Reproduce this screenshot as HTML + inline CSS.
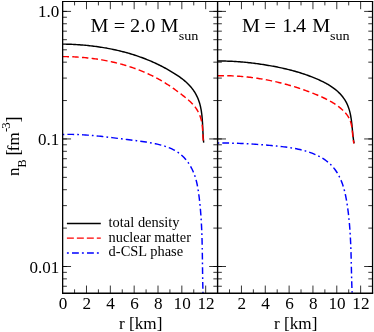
<!DOCTYPE html>
<html><head><meta charset="utf-8"><title>nB profile</title>
<style>html,body{margin:0;padding:0;background:#fff;}body{width:374px;height:332px;overflow:hidden;font-family:"Liberation Serif",serif;}svg{display:block;will-change:transform;}</style>
</head><body>
<svg width="374" height="332" viewBox="0 0 374 332">
<rect width="374" height="332" fill="#fff"/>
<g fill="none" stroke-width="1.45">
<path d="M62.60 44.10 L64.01 44.12 L65.43 44.15 L66.84 44.19 L68.26 44.23 L69.67 44.28 L71.08 44.33 L72.50 44.39 L73.91 44.46 L75.33 44.54 L76.74 44.62 L78.15 44.71 L79.57 44.81 L80.98 44.91 L82.39 45.02 L83.80 45.14 L85.22 45.27 L86.63 45.40 L88.04 45.54 L89.44 45.69 L90.85 45.85 L92.26 46.01 L93.66 46.18 L95.07 46.36 L96.47 46.55 L97.88 46.74 L99.28 46.95 L100.68 47.16 L102.07 47.38 L103.47 47.60 L104.87 47.84 L106.26 48.08 L107.65 48.34 L109.04 48.60 L110.43 48.87 L111.82 49.14 L113.20 49.43 L114.58 49.72 L115.96 50.03 L117.34 50.34 L118.72 50.66 L120.09 50.99 L121.46 51.33 L122.83 51.68 L124.20 52.04 L125.56 52.41 L126.92 52.78 L128.28 53.17 L129.64 53.56 L130.99 53.97 L132.34 54.38 L133.69 54.80 L135.03 55.23 L136.37 55.68 L137.71 56.13 L139.05 56.59 L140.38 57.06 L141.71 57.55 L143.03 58.04 L144.35 58.54 L145.67 59.05 L146.99 59.57 L148.30 60.11 L149.60 60.65 L150.91 61.20 L152.21 61.77 L153.50 62.34 L154.79 62.93 L156.08 63.52 L157.36 64.13 L158.64 64.74 L159.92 65.37 L161.19 66.01 L162.45 66.66 L163.71 67.32 L164.97 67.99 L166.22 68.67 L167.47 69.37 L168.71 70.07 L169.95 70.79 L171.18 71.52 L172.41 72.26 L173.64 73.01 L174.85 73.77 L176.06 74.55 L177.26 75.34 L178.44 76.14 L179.62 76.96 L180.77 77.80 L181.91 78.66 L183.04 79.53 L184.14 80.42 L185.22 81.33 L186.27 82.27 L187.30 83.22 L188.30 84.20 L189.27 85.20 L190.21 86.23 L191.12 87.28 L191.99 88.35 L192.83 89.45 L193.63 90.58 L194.40 91.73 L195.13 92.91 L195.82 94.11 L196.47 95.33 L197.08 96.57 L197.66 97.83 L198.19 99.11 L198.69 100.42 L199.14 101.73 L199.56 103.07 L199.94 104.42 L200.29 105.79 L200.60 107.17 L200.89 108.56 L201.15 109.97 L201.38 111.38 L201.58 112.80 L201.77 114.23 L201.93 115.67 L202.07 117.11 L202.20 118.56 L202.31 120.00 L202.41 121.45 L202.50 122.90 L202.58 124.35 L202.66 125.80 L202.73 127.25 L202.79 128.69 L202.86 130.12 L202.92 131.55 L202.99 132.97 L203.06 134.38 L203.14 135.78 L203.23 137.17 L203.32 138.55 L203.43 139.92 L203.56 141.27 L203.70 142.60" stroke="#000"/>
<path d="M62.60 56.60 L63.91 56.61 L65.21 56.62 L66.52 56.64 L67.82 56.66 L69.13 56.70 L70.44 56.74 L71.75 56.78 L73.06 56.84 L74.37 56.90 L75.69 56.97 L77.00 57.04 L78.31 57.13 L79.63 57.22 L80.94 57.31 L82.25 57.42 L83.57 57.53 L84.88 57.65 L86.19 57.78 L87.50 57.91 L88.82 58.05 L90.13 58.20 L91.44 58.36 L92.75 58.52 L94.06 58.69 L95.37 58.87 L96.68 59.06 L97.99 59.26 L99.29 59.46 L100.60 59.67 L101.90 59.89 L103.21 60.12 L104.51 60.36 L105.81 60.60 L107.10 60.85 L108.40 61.11 L109.69 61.38 L110.99 61.65 L112.28 61.94 L113.57 62.23 L114.85 62.53 L116.14 62.84 L117.42 63.16 L118.70 63.49 L119.97 63.82 L121.25 64.17 L122.52 64.52 L123.79 64.88 L125.05 65.25 L126.32 65.63 L127.58 66.02 L128.83 66.41 L130.09 66.82 L131.34 67.23 L132.58 67.66 L133.83 68.09 L135.07 68.53 L136.30 68.98 L137.53 69.44 L138.76 69.91 L139.99 70.39 L141.21 70.87 L142.42 71.37 L143.63 71.88 L144.84 72.39 L146.04 72.92 L147.24 73.45 L148.44 73.99 L149.63 74.55 L150.81 75.11 L151.99 75.68 L153.17 76.27 L154.34 76.86 L155.50 77.46 L156.66 78.07 L157.81 78.69 L158.96 79.32 L160.11 79.97 L161.24 80.62 L162.37 81.28 L163.50 81.95 L164.62 82.63 L165.74 83.32 L166.84 84.02 L167.95 84.74 L169.04 85.46 L170.13 86.19 L171.22 86.93 L172.30 87.68 L173.38 88.44 L174.45 89.21 L175.52 89.98 L176.59 90.77 L177.65 91.55 L178.72 92.35 L179.78 93.15 L180.85 93.95 L181.91 94.76 L182.97 95.58 L184.03 96.40 L185.08 97.23 L186.12 98.08 L187.15 98.93 L188.16 99.80 L189.15 100.68 L190.13 101.58 L191.07 102.49 L192.00 103.43 L192.89 104.38 L193.75 105.36 L194.58 106.36 L195.37 107.38 L196.12 108.43 L196.83 109.51 L197.50 110.61 L198.12 111.73 L198.71 112.88 L199.25 114.05 L199.75 115.24 L200.21 116.45 L200.63 117.68 L201.00 118.93 L201.32 120.20 L201.61 121.48 L201.85 122.78 L202.05 124.10 L202.22 125.42 L202.36 126.75 L202.48 128.09 L202.58 129.43 L202.66 130.78 L202.74 132.12 L202.81 133.46 L202.88 134.80 L202.95 136.13 L203.03 137.45 L203.13 138.76 L203.25 140.06 L203.38 141.34 L203.55 142.60" stroke="#f00" stroke-dasharray="6.4 3.3"/>
<path d="M62.60 134.45 L64.52 134.41 L66.43 134.38 L68.35 134.37 L70.26 134.37 L72.17 134.40 L74.07 134.44 L75.98 134.49 L77.88 134.56 L79.79 134.65 L81.69 134.75 L83.59 134.86 L85.49 134.98 L87.39 135.12 L89.28 135.26 L91.18 135.42 L93.07 135.59 L94.97 135.76 L96.86 135.95 L98.75 136.14 L100.64 136.34 L102.53 136.55 L104.42 136.76 L106.31 136.98 L108.20 137.20 L110.09 137.42 L111.98 137.65 L113.87 137.89 L115.75 138.12 L117.64 138.36 L119.53 138.60 L121.42 138.83 L123.30 139.07 L125.19 139.31 L127.08 139.54 L128.97 139.77 L130.86 140.00 L132.74 140.23 L134.63 140.46 L136.52 140.70 L138.41 140.94 L140.30 141.19 L142.19 141.44 L144.08 141.71 L145.96 142.00 L147.85 142.30 L149.73 142.62 L151.62 142.97 L153.50 143.33 L155.38 143.73 L157.26 144.15 L159.14 144.60 L161.02 145.09 L162.88 145.62 L164.73 146.18 L166.56 146.79 L168.36 147.46 L170.14 148.17 L171.88 148.94 L173.59 149.77 L175.24 150.67 L176.85 151.64 L178.41 152.67 L179.90 153.78 L181.34 154.97 L182.72 156.22 L184.04 157.54 L185.30 158.92 L186.50 160.36 L187.64 161.85 L188.72 163.39 L189.74 164.98 L190.70 166.61 L191.61 168.28 L192.45 169.99 L193.24 171.72 L193.96 173.49 L194.63 175.28 L195.24 177.09 L195.79 178.91 L196.29 180.76 L196.75 182.62 L197.16 184.49 L197.53 186.37 L197.87 188.26 L198.18 190.16 L198.47 192.06 L198.73 193.96 L198.98 195.87 L199.22 197.77 L199.44 199.68 L199.65 201.58 L199.85 203.49 L200.05 205.39 L200.23 207.29 L200.40 209.19 L200.56 211.10 L200.71 213.00 L200.85 214.90 L200.99 216.80 L201.11 218.70 L201.23 220.60 L201.34 222.49 L201.44 224.39 L201.54 226.29 L201.63 228.19 L201.71 230.09 L201.79 231.99 L201.86 233.88 L201.92 235.78 L201.98 237.68 L202.04 239.58 L202.09 241.48 L202.13 243.37 L202.18 245.27 L202.22 247.17 L202.25 249.07 L202.29 250.97 L202.32 252.87 L202.35 254.77 L202.38 256.67 L202.40 258.57 L202.43 260.47 L202.45 262.37 L202.48 264.28 L202.50 266.18 L202.52 268.08 L202.55 269.99 L202.57 271.89 L202.60 273.80 L202.63 275.70 L202.66 277.61 L202.69 279.52 L202.72 281.43 L202.76 283.34 L202.80 285.25 L202.84 287.16 L202.89 289.07 L202.94 290.99 L203.00 292.90" stroke="#00f" stroke-dasharray="1.7 3.1 6.75 3.1"/>
<path d="M217.55 61.05 L218.85 61.04 L220.16 61.03 L221.46 61.04 L222.77 61.05 L224.07 61.06 L225.38 61.09 L226.68 61.12 L227.99 61.16 L229.30 61.21 L230.61 61.26 L231.91 61.32 L233.22 61.39 L234.53 61.46 L235.84 61.54 L237.14 61.63 L238.45 61.72 L239.76 61.82 L241.07 61.92 L242.37 62.03 L243.68 62.15 L244.99 62.27 L246.29 62.40 L247.60 62.54 L248.90 62.68 L250.21 62.83 L251.51 62.98 L252.81 63.14 L254.12 63.30 L255.42 63.47 L256.72 63.64 L258.02 63.82 L259.32 64.00 L260.61 64.19 L261.91 64.38 L263.21 64.58 L264.50 64.78 L265.79 64.99 L267.08 65.20 L268.37 65.42 L269.66 65.64 L270.95 65.87 L272.24 66.10 L273.52 66.33 L274.80 66.57 L276.08 66.82 L277.36 67.08 L278.64 67.34 L279.92 67.60 L281.19 67.87 L282.47 68.15 L283.74 68.43 L285.01 68.73 L286.28 69.02 L287.54 69.33 L288.81 69.64 L290.07 69.96 L291.33 70.29 L292.59 70.62 L293.85 70.97 L295.10 71.32 L296.36 71.68 L297.61 72.04 L298.86 72.42 L300.10 72.80 L301.35 73.19 L302.59 73.60 L303.83 74.01 L305.07 74.43 L306.31 74.86 L307.54 75.30 L308.77 75.75 L310.00 76.20 L311.23 76.67 L312.46 77.15 L313.68 77.64 L314.90 78.14 L316.12 78.65 L317.33 79.17 L318.55 79.71 L319.76 80.25 L320.96 80.81 L322.15 81.38 L323.34 81.97 L324.52 82.57 L325.69 83.19 L326.85 83.83 L327.99 84.48 L329.12 85.16 L330.24 85.85 L331.34 86.56 L332.42 87.30 L333.48 88.05 L334.53 88.84 L335.55 89.64 L336.55 90.47 L337.53 91.33 L338.48 92.21 L339.40 93.12 L340.30 94.05 L341.17 95.02 L342.01 96.01 L342.82 97.02 L343.59 98.06 L344.33 99.13 L345.03 100.22 L345.70 101.32 L346.32 102.46 L346.90 103.61 L347.44 104.78 L347.93 105.97 L348.39 107.17 L348.82 108.39 L349.20 109.63 L349.56 110.88 L349.89 112.14 L350.19 113.42 L350.46 114.71 L350.71 116.00 L350.94 117.30 L351.15 118.62 L351.34 119.93 L351.51 121.25 L351.67 122.58 L351.82 123.91 L351.96 125.24 L352.10 126.57 L352.22 127.90 L352.35 129.23 L352.47 130.55 L352.60 131.87 L352.72 133.19 L352.86 134.50 L353.00 135.80 L353.15 137.09 L353.31 138.38 L353.48 139.65 L353.67 140.92 L353.87 142.16 L354.10 143.40" stroke="#000"/>
<path d="M217.55 75.70 L218.77 75.68 L219.99 75.67 L221.20 75.67 L222.42 75.67 L223.64 75.67 L224.85 75.69 L226.07 75.71 L227.28 75.73 L228.49 75.76 L229.70 75.80 L230.92 75.84 L232.13 75.89 L233.34 75.95 L234.55 76.01 L235.76 76.07 L236.96 76.15 L238.17 76.23 L239.38 76.31 L240.58 76.40 L241.79 76.50 L242.99 76.60 L244.20 76.71 L245.40 76.82 L246.60 76.95 L247.80 77.07 L249.00 77.20 L250.20 77.34 L251.40 77.49 L252.59 77.64 L253.79 77.79 L254.98 77.96 L256.18 78.12 L257.37 78.30 L258.56 78.48 L259.75 78.66 L260.94 78.85 L262.13 79.05 L263.32 79.25 L264.51 79.46 L265.69 79.68 L266.88 79.90 L268.06 80.13 L269.24 80.36 L270.43 80.60 L271.61 80.84 L272.79 81.09 L273.96 81.34 L275.14 81.61 L276.32 81.87 L277.49 82.15 L278.67 82.42 L279.84 82.71 L281.01 83.00 L282.18 83.29 L283.35 83.59 L284.52 83.90 L285.68 84.21 L286.85 84.53 L288.01 84.86 L289.17 85.19 L290.33 85.52 L291.49 85.86 L292.65 86.21 L293.81 86.56 L294.97 86.92 L296.12 87.29 L297.27 87.66 L298.42 88.03 L299.58 88.41 L300.72 88.80 L301.87 89.19 L303.02 89.59 L304.16 89.99 L305.31 90.40 L306.45 90.81 L307.59 91.23 L308.73 91.66 L309.86 92.09 L311.00 92.53 L312.13 92.97 L313.27 93.42 L314.40 93.87 L315.53 94.33 L316.66 94.79 L317.78 95.26 L318.91 95.74 L320.03 96.22 L321.15 96.71 L322.26 97.21 L323.37 97.72 L324.47 98.24 L325.57 98.77 L326.66 99.30 L327.74 99.85 L328.81 100.42 L329.88 100.99 L330.93 101.58 L331.98 102.19 L333.01 102.81 L334.03 103.44 L335.04 104.09 L336.03 104.76 L337.01 105.45 L337.98 106.15 L338.93 106.88 L339.86 107.62 L340.78 108.39 L341.68 109.17 L342.57 109.98 L343.43 110.81 L344.27 111.67 L345.09 112.55 L345.88 113.45 L346.63 114.38 L347.35 115.34 L348.02 116.33 L348.63 117.35 L349.19 118.40 L349.70 119.48 L350.16 120.59 L350.56 121.72 L350.92 122.88 L351.22 124.05 L351.49 125.25 L351.71 126.46 L351.91 127.68 L352.08 128.91 L352.23 130.14 L352.36 131.38 L352.48 132.63 L352.59 133.87 L352.70 135.10 L352.82 136.33 L352.95 137.55 L353.09 138.76 L353.25 139.95 L353.43 141.12 L353.65 142.27 L353.90 143.40" stroke="#f00" stroke-dasharray="6.4 3.3"/>
<path d="M217.55 142.95 L219.38 142.96 L221.21 142.97 L223.03 142.99 L224.85 143.02 L226.66 143.05 L228.47 143.08 L230.27 143.12 L232.07 143.17 L233.87 143.22 L235.66 143.27 L237.45 143.33 L239.24 143.40 L241.03 143.47 L242.81 143.55 L244.59 143.63 L246.37 143.72 L248.15 143.81 L249.93 143.91 L251.71 144.01 L253.48 144.12 L255.26 144.23 L257.04 144.35 L258.82 144.48 L260.60 144.61 L262.38 144.75 L264.16 144.89 L265.94 145.04 L267.72 145.19 L269.51 145.35 L271.30 145.52 L273.09 145.69 L274.88 145.87 L276.68 146.05 L278.48 146.24 L280.29 146.44 L282.09 146.64 L283.90 146.86 L285.71 147.09 L287.51 147.33 L289.31 147.59 L291.11 147.87 L292.90 148.16 L294.69 148.48 L296.47 148.82 L298.25 149.18 L300.01 149.57 L301.77 149.99 L303.51 150.44 L305.25 150.92 L306.97 151.43 L308.67 151.98 L310.36 152.56 L312.04 153.18 L313.70 153.84 L315.34 154.54 L316.96 155.29 L318.56 156.08 L320.14 156.91 L321.69 157.80 L323.22 158.73 L324.72 159.72 L326.18 160.76 L327.59 161.85 L328.96 162.99 L330.28 164.19 L331.54 165.45 L332.75 166.77 L333.89 168.13 L334.98 169.55 L336.02 171.00 L337.00 172.50 L337.92 174.04 L338.79 175.61 L339.61 177.20 L340.37 178.82 L341.09 180.46 L341.75 182.13 L342.38 183.81 L342.95 185.52 L343.49 187.24 L343.99 188.97 L344.46 190.72 L344.89 192.48 L345.30 194.24 L345.68 196.02 L346.03 197.81 L346.36 199.59 L346.66 201.39 L346.96 203.18 L347.23 204.98 L347.50 206.77 L347.75 208.57 L347.99 210.36 L348.22 212.15 L348.43 213.94 L348.64 215.73 L348.83 217.53 L349.01 219.32 L349.19 221.11 L349.35 222.90 L349.51 224.68 L349.65 226.47 L349.79 228.26 L349.92 230.05 L350.04 231.84 L350.15 233.63 L350.26 235.42 L350.36 237.21 L350.45 238.99 L350.54 240.78 L350.62 242.57 L350.70 244.36 L350.77 246.15 L350.84 247.94 L350.90 249.73 L350.96 251.52 L351.02 253.31 L351.07 255.10 L351.12 256.89 L351.17 258.68 L351.21 260.48 L351.26 262.27 L351.30 264.06 L351.34 265.86 L351.38 267.65 L351.42 269.45 L351.46 271.25 L351.50 273.05 L351.55 274.85 L351.59 276.65 L351.64 278.45 L351.68 280.25 L351.73 282.05 L351.78 283.86 L351.84 285.66 L351.90 287.47 L351.96 289.28 L352.03 291.09 L352.10 292.90" stroke="#00f" stroke-dasharray="1.7 3.08 6.74 3.08"/>
<path d="M66.9 223.5 H100.8" stroke="#000" stroke-width="1.4"/>
<path d="M66.9 238.1 H100.8" stroke="#f00" stroke-width="1.4" stroke-dasharray="6.95 3.02"/>
<path d="M66.9 253.0 H100.8" stroke="#00f" stroke-width="1.4" stroke-dasharray="1.9 3.2 6.85 3.05"/>
</g>
<g fill="none" stroke="#000" stroke-width="1.1">
<path d="M62.00 1.50 H373.20" stroke-width="1.2"/>
<path d="M62.00 293.25 H373.20" stroke-width="1.35"/>
<path d="M62.65 1.50 V293.25 M372.55 1.50 V293.25" stroke-width="1.30"/>
<path d="M217.60 1.50 V293.25" stroke-width="1.4"/>
<path d="M62.65 286.26 L66.90 286.26 M213.35 286.26 L221.85 286.26 M368.30 286.26 L372.55 286.26 M62.65 278.86 L66.90 278.86 M213.35 278.86 L221.85 278.86 M368.30 278.86 L372.55 278.86 M62.65 272.34 L66.90 272.34 M213.35 272.34 L221.85 272.34 M368.30 272.34 L372.55 272.34 M62.65 266.50 L71.05 266.50 M209.20 266.50 L226.00 266.50 M364.15 266.50 L372.55 266.50 M62.65 266.50 L66.90 266.50 M213.35 266.50 L221.85 266.50 M368.30 266.50 L372.55 266.50 M62.65 228.10 L66.90 228.10 M213.35 228.10 L221.85 228.10 M368.30 228.10 L372.55 228.10 M62.65 205.64 L66.90 205.64 M213.35 205.64 L221.85 205.64 M368.30 205.64 L372.55 205.64 M62.65 189.71 L66.90 189.71 M213.35 189.71 L221.85 189.71 M368.30 189.71 L372.55 189.71 M62.65 177.35 L66.90 177.35 M213.35 177.35 L221.85 177.35 M368.30 177.35 L372.55 177.35 M62.65 167.25 L66.90 167.25 M213.35 167.25 L221.85 167.25 M368.30 167.25 L372.55 167.25 M62.65 158.71 L66.90 158.71 M213.35 158.71 L221.85 158.71 M368.30 158.71 L372.55 158.71 M62.65 151.31 L66.90 151.31 M213.35 151.31 L221.85 151.31 M368.30 151.31 L372.55 151.31 M62.65 144.79 L66.90 144.79 M213.35 144.79 L221.85 144.79 M368.30 144.79 L372.55 144.79 M62.65 138.95 L71.05 138.95 M209.20 138.95 L226.00 138.95 M364.15 138.95 L372.55 138.95 M62.65 138.95 L66.90 138.95 M213.35 138.95 L221.85 138.95 M368.30 138.95 L372.55 138.95 M62.65 100.55 L66.90 100.55 M213.35 100.55 L221.85 100.55 M368.30 100.55 L372.55 100.55 M62.65 78.09 L66.90 78.09 M213.35 78.09 L221.85 78.09 M368.30 78.09 L372.55 78.09 M62.65 62.16 L66.90 62.16 M213.35 62.16 L221.85 62.16 M368.30 62.16 L372.55 62.16 M62.65 49.80 L66.90 49.80 M213.35 49.80 L221.85 49.80 M368.30 49.80 L372.55 49.80 M62.65 39.70 L66.90 39.70 M213.35 39.70 L221.85 39.70 M368.30 39.70 L372.55 39.70 M62.65 31.16 L66.90 31.16 M213.35 31.16 L221.85 31.16 M368.30 31.16 L372.55 31.16 M62.65 23.76 L66.90 23.76 M213.35 23.76 L221.85 23.76 M368.30 23.76 L372.55 23.76 M62.65 17.24 L66.90 17.24 M213.35 17.24 L221.85 17.24 M368.30 17.24 L372.55 17.24 M62.65 11.40 L71.05 11.40 M209.20 11.40 L226.00 11.40 M364.15 11.40 L372.55 11.40 M62.65 11.40 L66.90 11.40 M213.35 11.40 L221.85 11.40 M368.30 11.40 L372.55 11.40 M74.57 293.25 L74.57 289.35 M74.57 1.50 L74.57 5.40 M229.52 293.25 L229.52 289.35 M229.52 1.50 L229.52 5.40 M86.49 293.25 L86.49 285.55 M86.49 1.50 L86.49 9.20 M241.44 293.25 L241.44 285.55 M241.44 1.50 L241.44 9.20 M98.41 293.25 L98.41 289.35 M98.41 1.50 L98.41 5.40 M253.36 293.25 L253.36 289.35 M253.36 1.50 L253.36 5.40 M110.33 293.25 L110.33 285.55 M110.33 1.50 L110.33 9.20 M265.28 293.25 L265.28 285.55 M265.28 1.50 L265.28 9.20 M122.25 293.25 L122.25 289.35 M122.25 1.50 L122.25 5.40 M277.20 293.25 L277.20 289.35 M277.20 1.50 L277.20 5.40 M134.17 293.25 L134.17 285.55 M134.17 1.50 L134.17 9.20 M289.12 293.25 L289.12 285.55 M289.12 1.50 L289.12 9.20 M146.08 293.25 L146.08 289.35 M146.08 1.50 L146.08 5.40 M301.03 293.25 L301.03 289.35 M301.03 1.50 L301.03 5.40 M158.00 293.25 L158.00 285.55 M158.00 1.50 L158.00 9.20 M312.95 293.25 L312.95 285.55 M312.95 1.50 L312.95 9.20 M169.92 293.25 L169.92 289.35 M169.92 1.50 L169.92 5.40 M324.87 293.25 L324.87 289.35 M324.87 1.50 L324.87 5.40 M181.84 293.25 L181.84 285.55 M181.84 1.50 L181.84 9.20 M336.79 293.25 L336.79 285.55 M336.79 1.50 L336.79 9.20 M193.76 293.25 L193.76 289.35 M193.76 1.50 L193.76 5.40 M348.71 293.25 L348.71 289.35 M348.71 1.50 L348.71 5.40 M205.68 293.25 L205.68 285.55 M205.68 1.50 L205.68 9.20 M360.63 293.25 L360.63 285.55 M360.63 1.50 L360.63 9.20" stroke-width="0.8"/>
</g>
<g font-family="'Liberation Serif', serif" fill="#000">
<text transform="translate(59.30 17.00) scale(1.000 1)" font-size="17" text-anchor="end">1.0</text>
<text transform="translate(59.30 145.00) scale(1.000 1)" font-size="17" text-anchor="end">0.1</text>
<text transform="translate(59.30 273.00) scale(1.000 1)" font-size="17" text-anchor="end">0.01</text>
<text transform="translate(62.95 308.70) scale(1.010 1)" font-size="17" text-anchor="middle">0</text>
<text transform="translate(86.79 308.70) scale(1.010 1)" font-size="17" text-anchor="middle">2</text>
<text transform="translate(110.63 308.70) scale(1.010 1)" font-size="17" text-anchor="middle">4</text>
<text transform="translate(134.47 308.70) scale(1.010 1)" font-size="17" text-anchor="middle">6</text>
<text transform="translate(158.30 308.70) scale(1.010 1)" font-size="17" text-anchor="middle">8</text>
<text transform="translate(182.14 308.70) scale(1.010 1)" font-size="17" text-anchor="middle">10</text>
<text transform="translate(205.98 308.70) scale(1.010 1)" font-size="17" text-anchor="middle">12</text>
<text transform="translate(241.74 308.70) scale(1.010 1)" font-size="17" text-anchor="middle">2</text>
<text transform="translate(265.58 308.70) scale(1.010 1)" font-size="17" text-anchor="middle">4</text>
<text transform="translate(289.42 308.70) scale(1.010 1)" font-size="17" text-anchor="middle">6</text>
<text transform="translate(313.25 308.70) scale(1.010 1)" font-size="17" text-anchor="middle">8</text>
<text transform="translate(337.09 308.70) scale(1.010 1)" font-size="17" text-anchor="middle">10</text>
<text transform="translate(360.93 308.70) scale(1.010 1)" font-size="17" text-anchor="middle">12</text>
<text transform="translate(140.72 328.90) scale(1.075 1)" font-size="16" text-anchor="middle">r [km]</text>
<text transform="translate(295.68 328.90) scale(1.075 1)" font-size="16" text-anchor="middle">r [km]</text>
<text transform="translate(90.60 32.00) scale(1.065 1)" font-size="19" text-anchor="start">M = 2.0 M</text>
<text transform="translate(178.70 40.00) scale(1.050 1)" font-size="13.5" text-anchor="start">sun</text>
<text transform="translate(242.00 32.00) scale(1.065 1)" font-size="19" text-anchor="start">M</text>
<text transform="translate(264.55 32.00) scale(1.065 1)" font-size="19" text-anchor="start">=</text>
<text transform="translate(282.25 32.00) scale(1.065 1)" font-size="19" text-anchor="start">1</text>
<text transform="translate(291.90 32.00) scale(1.065 1)" font-size="19" text-anchor="start">.</text>
<text transform="translate(295.90 32.00) scale(1.065 1)" font-size="19" text-anchor="start">4</text>
<text transform="translate(312.20 32.00) scale(1.065 1)" font-size="19" text-anchor="start">M</text>
<text transform="translate(329.90 40.00) scale(1.050 1)" font-size="13.5" text-anchor="start">sun</text>
<text transform="translate(108.60 227.00) scale(1.032 1)" font-size="14" text-anchor="start">total density</text>
<text transform="translate(108.60 242.00) scale(1.025 1)" font-size="14" text-anchor="start">nuclear matter</text>
<text transform="translate(108.60 256.00) scale(1.032 1)" font-size="14" text-anchor="start">d-CSL phase</text>
<g transform="translate(19.1 176) rotate(-90)">
<text font-size="17"><tspan x="0.00" y="0">n</tspan><tspan x="8.60" y="7" font-size="12">B</tspan><tspan x="20.50" y="0.3" font-size="18.3">[</tspan><tspan x="24.80" y="0">f</tspan><tspan x="30.40" y="0">m</tspan><tspan x="43.90" y="-9.6" font-size="13">-</tspan><tspan x="47.20" y="-9.5" font-size="13">3</tspan><tspan x="53.50" y="0.3" font-size="18.3">]</tspan></text>
</g>
</g>
</svg>
</body></html>
